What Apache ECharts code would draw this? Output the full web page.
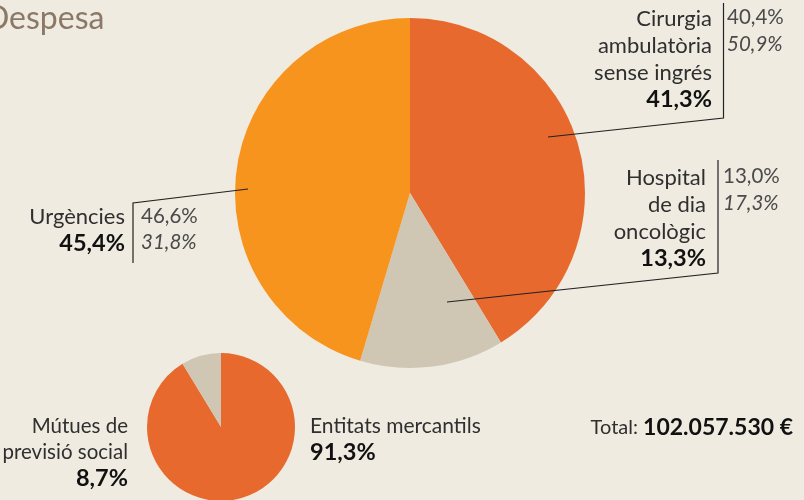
<!DOCTYPE html>
<html>
<head>
<meta charset="utf-8">
<script src="https://cdn.jsdelivr.net/npm/echarts@6/dist/echarts.min.js"></script>
<style>
  html, body { margin: 0; padding: 0; background: #efebe1; }
  #chart { width: 804px; height: 500px; }
</style>
</head>
<body>
<div id="chart"></div>
<script>
// despesa per àmbit (pastís gran)
const bigNames = ['Cirurgia ambulatòria sense ingrés', 'Hospital de dia oncològic', 'Urgències'];
const bigLabelLines = [['Cirurgia', 'ambulatòria', 'sense ingrés'], ['Hospital', 'de dia', 'oncològic'], ['Urgències']];
const bigValues = [41.3, 13.3, 45.4];
const bigOther = [['40,4%', '50,9%'], ['13,0%', '17,3%'], ['46,6%', '31,8%']];
const bigColors = ['#e8692d', '#cfc6b4', '#f7941d'];

// despesa per tipus d'entitat (pastís petit)
const smallNames = ['Entitats mercantils', 'Mútues de previsió social'];
const smallValues = [91.3, 8.7];
const smallColors = ['#e8692d', '#cfc6b4'];

const totalText = '102.057.530 €';

const FONT = 'Lato, "Open Sans", sans-serif';
const fmt = v => v.toFixed(1).replace('.', ',') + '%';

let myChart = echarts.init(document.getElementById('chart'));

// bloc d'etiqueta alineat a la dreta, última línia en negreta
function labelBlock(lines, value, right, top, lh, fs) {
  fs = fs || 22;
  let txt = lines.map(l => '{n|' + l + '}').join('\n') + '\n{b|' + fmt(value) + '}';
  return {
    type: 'text', x: right, y: top, z: 100,
    style: {
      text: txt, align: 'right', verticalAlign: 'top', fontFamily: FONT,
      rich: {
        n: { fontSize: fs, lineHeight: lh, fill: '#2f2f2f', fontFamily: FONT, align: 'right' },
        b: { fontSize: 23.5, lineHeight: lh, fill: '#111', fontWeight: 'bold', fontFamily: FONT, align: 'right' }
      }
    }
  };
}
function otherBlock(vals, left, top, lh) {
  return {
    type: 'text', x: left, y: top, z: 100,
    style: {
      text: '{a|' + vals[0] + '}\n{i|' + vals[1] + '}', align: 'left', verticalAlign: 'top',
      rich: {
        a: { fontSize: 20.5, lineHeight: lh, fill: '#4a4a4a', fontFamily: FONT },
        i: { fontSize: 20.5, lineHeight: lh, fill: '#4a4a4a', fontFamily: FONT, fontStyle: 'italic' }
      }
    }
  };
}
function leader(points) {
  return { type: 'polyline', z: 100, shape: { points: points }, style: { stroke: '#222', lineWidth: 1.2, fill: null } };
}

myChart.setOption({
  backgroundColor: '#efebe1',
  animation: false,
  series: [
    {
      type: 'pie', center: [410, 193], radius: 175, startAngle: 90, clockwise: true,
      silent: true, label: { show: false }, labelLine: { show: false },
      data: bigNames.map((n, i) => ({ name: n, value: bigValues[i], itemStyle: { color: bigColors[i] } }))
    },
    {
      type: 'pie', center: [221, 427], radius: 74, startAngle: 90, clockwise: true,
      silent: true, label: { show: false }, labelLine: { show: false },
      data: smallNames.map((n, i) => ({ name: n, value: smallValues[i], itemStyle: { color: smallColors[i] } }))
    }
  ],
  graphic: [
    { type: 'text', x: -15, y: 19, style: { text: 'Despesa', fontSize: 32, fill: '#8b7866', fontFamily: FONT, verticalAlign: 'middle' } },

    // Cirurgia
    labelBlock(bigLabelLines[0], bigValues[0], 712, 5, 27),
    otherBlock(bigOther[0], 727, 4, 27),
    leader([[723.5, 3], [723.5, 118], [548, 137]]),

    // Hospital de dia
    labelBlock(bigLabelLines[1], bigValues[1], 706, 164, 27),
    otherBlock(bigOther[1], 723, 163, 27),
    leader([[718, 160], [718, 273], [447, 302]]),

    // Urgències
    labelBlock(bigLabelLines[2], bigValues[2], 125, 203, 27),
    otherBlock(bigOther[2], 141, 203, 26),
    leader([[248, 189], [133, 203], [133, 263]]),

    // pastís petit
    labelBlock(['Mútues de', 'previsió social'], smallValues[1], 128, 413, 26, 20.5),
    {
      type: 'text', x: 310, y: 413, z: 100,
      style: {
        text: '{n|' + smallNames[0] + '}\n{b|' + fmt(smallValues[0]) + '}', align: 'left', verticalAlign: 'top',
        rich: {
          n: { fontSize: 21, lineHeight: 26, fill: '#2f2f2f', fontFamily: FONT },
          b: { fontSize: 23.5, lineHeight: 26, fill: '#111', fontWeight: 'bold', fontFamily: FONT }
        }
      }
    },

    // total
    {
      type: 'text', x: 793, y: 428, z: 100,
      style: {
        text: '{n|Total: }{b|' + totalText + '}', align: 'right', verticalAlign: 'middle',
        rich: {
          n: { fontSize: 20, fill: '#2f2f2f', fontFamily: FONT },
          b: { fontSize: 23, fill: '#111', fontWeight: 'bold', fontFamily: FONT }
        }
      }
    }
  ]
});
</script>
</body>
</html>
